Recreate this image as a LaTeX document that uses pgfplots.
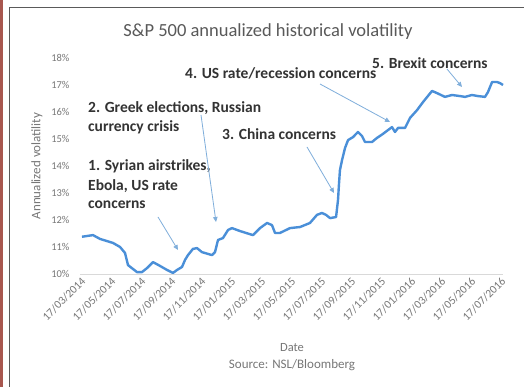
\documentclass[border=0pt]{standalone}
\usepackage{pgfplots}
\pgfplotsset{compat=1.18}
\usepackage{fontspec}
\setmainfont{Carlito}
\usetikzlibrary{arrows.meta}
\definecolor{lineblue}{HTML}{4A8FD8}
\definecolor{arrblue}{HTML}{7FAEDB}
\definecolor{txt}{HTML}{333333}
\definecolor{tick}{HTML}{777777}
\definecolor{frame}{HTML}{5A5A5A}
\definecolor{redstrip}{HTML}{A8574F}
\begin{document}
\begin{tikzpicture}[x=1pt,y=1pt]
\useasboundingbox (0,0) rectangle (524,387);
\fill[white] (0,0) rectangle (524,387);
\fill[redstrip] (0,0) rectangle (3.3,387);
\draw[frame, line width=1.3pt] (9.5,0) -- (9.5,379.3) -- (524,379.3);
\begin{axis}[
  at={(80pt,113pt)}, anchor=south west,
  scale only axis, width=423pt, height=216pt,
  xmin=0, xmax=28.2, ymin=10, ymax=18,
  axis x line*=bottom, axis y line*=left,
  y axis line style={draw=none},
  x axis line style={draw=gray!30, line width=0.8pt, -},
  major tick length=0pt,
  ytick={10,11,...,18},
  yticklabel={\pgfmathprintnumber{\tick}\%},
  /pgf/number format/assume math mode=true,
  yticklabel style={font=\fontsize{10.5}{12}\selectfont, text=tick, xshift=-7pt},
  xtick={0,2,...,28},
  xticklabels={17/03/2014,17/05/2014,17/07/2014,17/09/2014,17/11/2014,17/01/2015,17/03/2015,17/05/2015,17/07/2015,17/09/2015,17/11/2015,17/01/2016,17/03/2016,17/05/2016,17/07/2016},
  xticklabel style={font=\fontsize{11.5}{13}\selectfont, text=tick, rotate=45, anchor=north east, yshift=-1pt, inner sep=1pt},
  clip=false,
]
\addplot[lineblue, line width=2.4pt, line join=round] coordinates {
(0.13,11.38)(0.87,11.44)(1.33,11.30)(2.2,11.15)(2.67,11.0)(3.0,10.78)(3.2,10.33)
(3.8,10.07)(4.13,10.07)(4.47,10.22)(4.87,10.44)(5.33,10.30)(5.8,10.15)(6.2,10.04)
(6.47,10.15)(6.8,10.26)(7.0,10.52)(7.2,10.70)(7.53,10.93)(7.8,10.96)(8.13,10.81)
(8.8,10.70)(9.0,10.81)(9.2,11.26)(9.53,11.33)(9.87,11.63)(10.13,11.70)(10.67,11.59)
(11.53,11.44)(12.0,11.70)(12.47,11.89)(12.8,11.81)(13.0,11.52)(13.33,11.52)(14.0,11.70)
(14.67,11.74)(15.33,11.89)(15.8,12.19)(16.13,12.26)(16.4,12.19)(16.67,12.07)(17.07,12.11)
(17.2,12.74)(17.27,13.37)(17.33,13.85)(17.47,14.22)(17.67,14.67)(17.87,14.96)(18.2,15.07)
(18.53,15.26)(18.8,15.11)(19.0,14.89)(19.47,14.89)(19.8,15.04)(20.2,15.19)(20.53,15.33)
(20.8,15.44)(21.0,15.26)(21.2,15.41)(21.67,15.41)(22.0,15.78)(22.47,16.07)(22.87,16.37)
(23.47,16.78)(23.8,16.70)(24.33,16.56)(24.8,16.63)(25.33,16.59)(25.67,16.56)(26.13,16.63)
(26.53,16.59)(27.0,16.56)(27.2,16.74)(27.47,17.11)(27.8,17.11)(28.0,17.07)(28.2,17.0)
};
\end{axis}
% title and labels
\node[text=gray!70!black, font=\fontsize{18.5}{21}\selectfont] at (268,355) {S\&P 500 annualized historical volatility};
\node[text=tick, rotate=90, font=\fontsize{13}{15}\selectfont] at (37,221) {Annualized volatility};
\node[text=tick, font=\fontsize{12.5}{14}\selectfont] at (292,39) {Date};
\node[text=tick, font=\fontsize{13}{15}\selectfont] at (292,22) {Source: NSL/Bloomberg};
% annotations
\begin{scope}[every node/.style={text=txt, font=\bfseries\fontsize{15.5}{18}\selectfont, inner sep=0pt}]
\node[anchor=west] at (372,324) {5. Brexit concerns};
\node[anchor=west] at (185,314) {4. US rate/recession concerns};
\node[anchor=west] at (88,279) {2. Greek elections, Russian};
\node[anchor=west] at (88,260) {currency crisis};
\node[anchor=west] at (222,253) {3. China concerns};
\node[anchor=west] at (88,221) {1. Syrian airstrikes,};
\node[anchor=west] at (88,201) {Ebola, US rate};
\node[anchor=west] at (88,182) {concerns};
\end{scope}
\begin{scope}[arrblue, line width=0.8pt, -{Triangle[length=5pt,width=4.5pt]}]
\draw (447,318) -- (462,300);
\draw (320,303) -- (390,265);
\draw (201,272) -- (216,165);
\draw (307,240) -- (334,194);
\draw (158,170) -- (178,137);
\end{scope}
\end{tikzpicture}
\end{document}
